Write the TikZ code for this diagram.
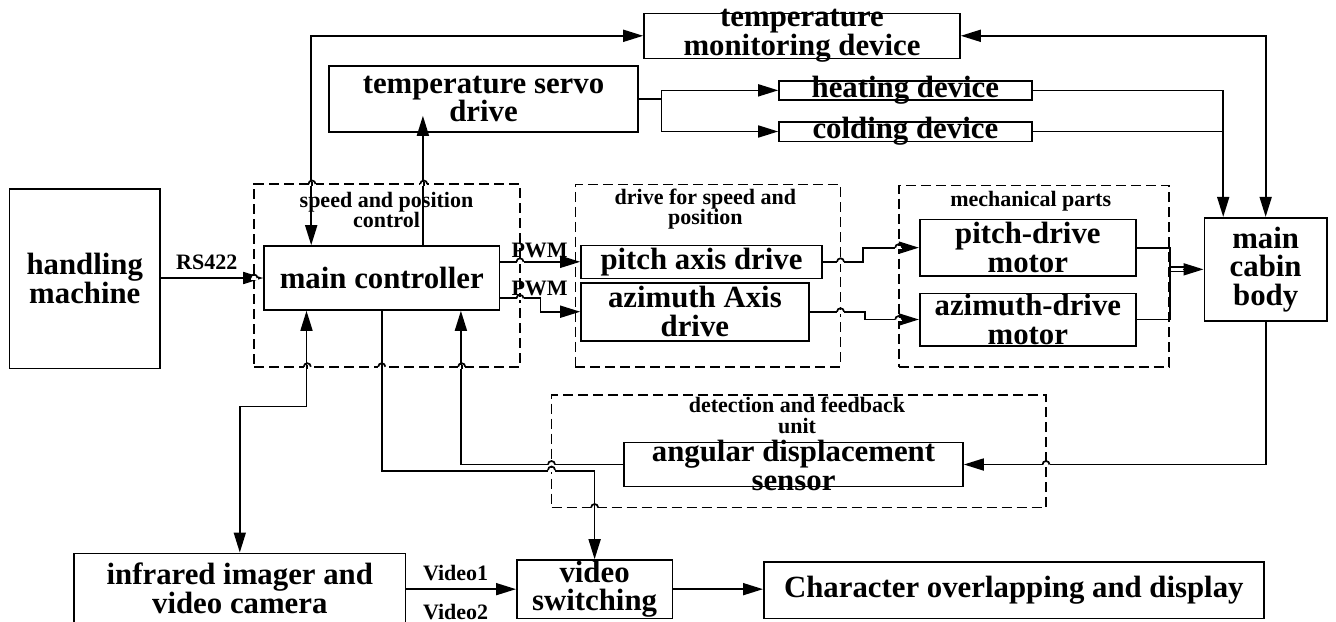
\documentclass[tikz,border=0pt]{standalone}
\usepackage{fontspec}
\setmainfont{Liberation Serif}
\usetikzlibrary{arrows.meta}

\newcommand{\bigtxt}{\fontsize{15.4}{14.3}\selectfont\bfseries}
\newcommand{\smalltxt}{\fontsize{11}{10.3}\selectfont\bfseries}
\newcommand{\hoph}[2]{%
  \fill[white] (#1-3.5,#2-1.8) rectangle (#1+3.5,#2+1.8);
  \draw[line width=0.85pt] (#1-3.5,#2) arc[start angle=180,end angle=0,radius=1.75pt];}
\newcommand{\hopv}[2]{%
  \fill[white] (#1-3.5,#2-1.8) rectangle (#1+3.5,#2+1.8);
  \draw[line width=0.85pt] (#1-3.5,#2) arc[start angle=180,end angle=0,radius=1.75pt];
  \draw[line width=0.85pt] (#1,#2-2) -- (#1,#2+2);}

\tikzset{
  blk/.style={draw, line width=0.8pt, inner sep=0pt, font=\bigtxt, align=center},
  grp/.style={draw, dash pattern=on 5pt off 2.5pt, line width=0.8pt, inner sep=0pt},
  grptitle/.style={font=\smalltxt, align=center, inner sep=0pt},
  boxtxt/.style={font=\bigtxt, align=center, inner sep=0pt},
  sig/.style={font=\smalltxt, inner sep=0pt},
  lnk/.style={line width=0.85pt},
  arr/.style={line width=0.85pt, -{Triangle[length=10pt,width=6pt]}},
  arrr/.style={line width=0.85pt, {Triangle[length=10pt,width=6pt]}-{Triangle[length=10pt,width=6pt]}}
}

\begin{document}
\begin{tikzpicture}[x=0.5pt,y=-0.5pt]
\useasboundingbox (0,0) rectangle (1336,621);

% dashed groups
\node[grp, minimum width=133pt, minimum height=91.35pt] (spc) at (387,275.35) {};
\node[grp, minimum width=132.6pt, minimum height=91.1pt] (dsp) at (707.9,275.6) {};
\node[grp, minimum width=135.15pt, minimum height=90.6pt] (mech) at (1033.85,276.1) {};
\node[grp, minimum width=247.25pt, minimum height=56.25pt] (det) at (798.75,451.25) {};
\node[grptitle] (spct) at (386.5,210) {speed and position\\control};
\node[grptitle] (dspt) at (705.4,209) {drive for speed and\\position};
\node[grptitle] (mecht) at (1030.7,201.7) {mechanical parts};
\node[grptitle] (dett) at (797,415.5) {detection and feedback\\unit};

% blocks
\node[blk, minimum width=75.2pt, minimum height=89.65pt] (hm) at (84.8,278.65) {handling\\machine};
\node[blk, minimum width=117.75pt, minimum height=32pt] (mc) at (381.75,278) {main controller};
\node[blk, minimum width=154.5pt, minimum height=33.15pt] (tsd) at (483.5,98.85) {temperature servo\\drive};
\node[blk, minimum width=158pt, minimum height=22.5pt, label={[boxtxt]center:temperature\\monitoring device}] (tmd) at (802,35.8) {};
\node[blk, minimum width=126.35pt, minimum height=9.65pt, label={[boxtxt]center:heating device}] (heat) at (905.35,90.35) {};
\node[blk, minimum width=126.35pt, minimum height=9.8pt, label={[boxtxt]center:colding device}] (cold) at (905.35,131.5) {};
\node[blk, minimum width=120.5pt, minimum height=16.5pt] (pad) at (701.5,261.8) {pitch axis drive};
\node[blk, minimum width=113.9pt, minimum height=29pt] (aad) at (694.9,311.7) {azimuth Axis\\drive};
\node[blk, minimum width=108.15pt, minimum height=28.35pt] (pdm) at (1027.85,247.65) {pitch-drive\\motor};
\node[blk, minimum width=108.15pt, minimum height=26.2pt] (adm) at (1027.85,319.5) {azimuth-drive\\motor};
\node[blk, minimum width=61.35pt, minimum height=51.65pt] (cabin) at (1265.65,269.35) {main\\cabin\\body};
\node[blk, minimum width=169.5pt, minimum height=22.15pt, label={[boxtxt, yshift=-0.6pt]center:angular displacement\\sensor}] (sens) at (793.5,464.5) {};
\node[blk, minimum width=165.8pt, minimum height=35.2pt] (ir) at (239.8,588.5) {infrared imager and\\video camera};
\node[blk, minimum width=77.8pt, minimum height=29.15pt] (vs) at (594.6,589.15) {video\\switching};
\node[blk, minimum width=250.05pt, minimum height=28.3pt] (char) at (1013.85,590) {Character overlapping and display};

% signal names
\node[sig] (rs) at (206.7,262.7) {RS422};
\node[sig] (pwm1) at (539.6,250) {PWM};
\node[sig] (pwm2) at (539.6,288.3) {PWM};
\node[sig] (v1) at (455.6,573.3) {Video1};
\node[sig] (v2) at (455.6,611.7) {Video2};

% connectors
\draw[arr] (hm.east |- mc.west) -- (mc.west);
\draw[arrr] ([xshift=24pt]mc.north west) |- (tmd.west);
\draw[arr] ([xshift=79.85pt]mc.north west) -- ([xshift=79.85pt,yshift=8.5pt]mc.north west |- tsd.south);
\draw[lnk] (tsd.east) -- ++(11.35pt,0) coordinate (split);
\draw[arr] (split) |- (heat.west);
\draw[arr] (split) |- (cold.west);
\coordinate (cin) at ([xshift=9.85pt]cabin.north west);
\draw[arr] (heat.east) -| (cin);
\draw[lnk] (cold.east) -- (cold.east -| cin);
\draw[arrr] (tmd.east) -| (cabin.north);
\draw[arr] (mc.east |- pad.west) -- (pad.west);
\draw[arr] ([yshift=-10.15pt]mc.east) -- ++(20.05pt,0) |- (aad.west);
\draw[arr] (pad.east) -- ++(20.15pt,0) |- (pdm.west);
\draw[arr] (aad.east) -- ++(27.6pt,0) |- (adm.west);
\draw[lnk] (pdm.east) -- ++(16.5pt,0) coordinate (join) |- (adm.east);
\draw[lnk] ([yshift=1.1pt]join |- cabin.west) -- ([yshift=1.1pt,xshift=-10pt]cabin.west);
\draw[lnk] ([yshift=-1.1pt]join |- cabin.west) -- ([yshift=-1.1pt,xshift=-10pt]cabin.west);
\draw[arr] ([xshift=-10.5pt]cabin.west) -- (cabin.west);
\draw[arrr] ([xshift=21.65pt]mc.south west) -- ++(0,95.7) -| (ir.north);
\draw[arr] (mc.south) -- ++(0,160) -| (vs.north);
\draw[arr] (sens.west) -| ([xshift=98.85pt]mc.south west);
\draw[arr] (cabin.south) |- (sens.east);
\draw[arr] (ir.east |- vs.west) -- (vs.west);
\draw[arr] (vs.east) -- (vs.east -| char.west);

% line jumps
\foreach \x/\y in {312/184, 423.75/184, 307.3/366.7, 381.75/366.7, 461.7/366.7, 594.6/507.5}
  \hopv{\x}{\y};
\foreach \x/\y in {254/278, 520/261.8, 520/298.3, 840.5/261.8, 898.7/247.65, 840.5/311.7, 898.7/319.5, 551.5/464.5, 551.5/470, 1046/464.5}
  \hoph{\x}{\y};
\end{tikzpicture}
\end{document}
